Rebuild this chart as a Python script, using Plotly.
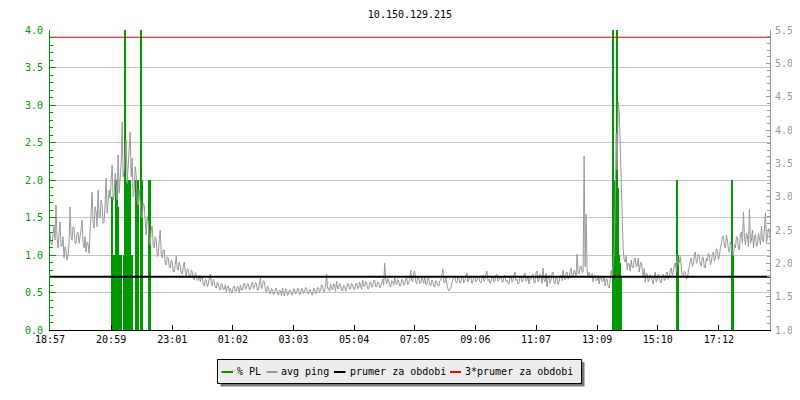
import plotly.graph_objects as go

title = "10.150.129.215"

# x axis: minutes since 18:57
tick_minutes = [0, 122, 244, 365, 486, 607, 728, 849, 970, 1092, 1213, 1335]
tick_labels = ["18:57", "20:59", "23:01", "01:02", "03:03", "05:04",
               "07:05", "09:06", "11:07", "13:09", "15:10", "17:12"]

# % packet loss (left axis), only the non-zero samples
pl_minutes = [124, 126, 128, 132, 134, 136, 140, 142, 148, 150, 152, 154,
              156, 158, 160, 162, 164, 172, 174, 176, 182, 184, 198, 200,
              1124, 1126, 1128, 1130, 1132, 1134, 1136, 1138, 1140,
              1252, 1254, 1362, 1364]
pl_values = [1.77, 1.0, 1.0, 2.0, 2.0, 1.64, 1.0, 1.0, 1.0, 4.5, 2.0, 2.0,
             2.0, 2.0, 2.0, 1.0, 1.0, 2.0, 2.0, 2.0, 4.5, 2.0, 2.0, 2.0,
             4.5, 2.0, 2.0, 1.0, 4.5, 1.9, 1.0, 0.9, 0.7,
             2.0, 1.0, 2.0, 1.0]

# avg ping (right axis), one sample every 2 minutes
ping_values = [
    2.47, 2.30, 2.275, 2.50, 2.575, 2.35, 2.875, 2.40, 2.23, 2.45, 2.62, 2.25, 2.26, 2.40, 2.08,
    2.25, 2.20, 2.05, 2.125, 2.30, 2.845, 2.40, 2.35, 2.55, 2.53, 2.30, 2.305, 2.45, 2.47, 2.30,
    2.38, 2.50, 2.65, 2.30, 2.23, 2.40, 2.17, 2.32, 2.29, 2.15, 2.47, 2.70, 3.07, 2.60, 2.53,
    2.85, 2.77, 2.55, 3.10, 2.70, 2.68, 2.95, 2.875, 2.60, 2.62, 2.90, 3.28, 2.75, 2.95, 3.10,
    2.98, 3.20, 3.475, 2.95, 3.025, 3.35, 3.22, 2.95, 3.625, 3.05, 3.28, 3.50, 4.12, 3.30, 3.40,
    3.70, 3.85, 3.20, 3.43, 3.75, 3.97, 3.30, 3.58, 3.00, 3.10, 3.45, 3.325, 2.95, 2.875, 3.10,
    2.95, 2.70, 2.68, 2.90, 2.875, 2.55, 2.425, 2.70, 2.62, 2.35, 2.275, 2.50, 2.56, 2.25, 2.23,
    2.40, 2.35, 2.10, 2.125, 2.35, 2.50, 2.15, 2.08, 2.20, 2.20, 2.00, 1.975, 2.10, 2.08, 1.95,
    1.93, 2.05, 2.02, 1.88, 1.87, 1.98, 2.11, 1.92, 1.90, 2.02, 1.96, 1.85, 1.84, 1.95, 2.02,
    1.86, 1.81, 1.92, 1.90, 1.80, 1.78, 1.90, 1.87, 1.77, 1.75, 1.86, 1.825, 1.74, 1.765, 1.82,
    1.72, 1.80, 1.78, 1.68, 1.66, 1.76, 1.75, 1.65, 1.69, 1.78, 1.84, 1.70, 1.66, 1.76, 1.72,
    1.64, 1.63, 1.72, 1.69, 1.62, 1.60, 1.70, 1.675, 1.60, 1.615, 1.68, 1.57, 1.65, 1.66, 1.58,
    1.63, 1.56, 1.57, 1.65, 1.66, 1.58, 1.585, 1.66, 1.63, 1.56, 1.675, 1.60, 1.60, 1.68, 1.705,
    1.61, 1.63, 1.70, 1.69, 1.60, 1.615, 1.68, 1.72, 1.62, 1.645, 1.71, 1.69, 1.60, 1.60, 1.70,
    1.78, 1.62, 1.66, 1.74, 1.72, 1.60, 1.57, 1.66, 1.63, 1.55, 1.54, 1.62, 1.60, 1.53, 1.555,
    1.63, 1.615, 1.54, 1.525, 1.60, 1.585, 1.52, 1.63, 1.55, 1.51, 1.62, 1.60, 1.52, 1.54, 1.61,
    1.585, 1.53, 1.525, 1.62, 1.615, 1.54, 1.555, 1.63, 1.60, 1.53, 1.54, 1.62, 1.615, 1.55, 1.57,
    1.64, 1.63, 1.55, 1.54, 1.61, 1.60, 1.53, 1.525, 1.63, 1.615, 1.54, 1.57, 1.64, 1.63, 1.56,
    1.60, 1.68, 1.66, 1.57, 1.585, 1.65, 1.84, 1.62, 1.63, 1.58, 1.69, 1.62, 1.60, 1.70, 1.66,
    1.58, 1.735, 1.63, 1.615, 1.70, 1.675, 1.60, 1.585, 1.67, 1.66, 1.58, 1.615, 1.70, 1.69, 1.61,
    1.63, 1.70, 1.675, 1.61, 1.60, 1.69, 1.705, 1.62, 1.63, 1.72, 1.675, 1.61, 1.75, 1.66, 1.645,
    1.73, 1.705, 1.62, 1.615, 1.71, 1.72, 1.64, 1.66, 1.74, 1.75, 1.65, 1.645, 1.72, 1.705, 1.63,
    1.66, 1.74, 1.765, 1.68, 2.005, 1.75, 1.69, 1.77, 1.75, 1.66, 1.645, 1.74, 1.72, 1.67, 1.78,
    1.70, 1.675, 1.76, 1.735, 1.66, 1.66, 1.76, 1.75, 1.67, 1.69, 1.77, 1.78, 1.68, 1.705, 1.76,
    1.90, 1.74, 1.72, 1.86, 1.885, 1.72, 1.69, 1.80, 1.78, 1.70, 1.705, 1.79, 1.75, 1.70, 1.81,
    1.69, 1.675, 1.78, 1.765, 1.68, 1.66, 1.75, 1.735, 1.66, 1.645, 1.74, 1.72, 1.67, 1.66, 1.74,
    1.75, 1.84, 1.915, 1.72, 1.705, 1.78, 1.66, 1.62, 1.585, 1.61, 1.63, 1.70, 1.75, 1.80, 1.81,
    1.72, 1.705, 1.79, 1.78, 1.70, 1.72, 1.80, 1.795, 1.71, 1.735, 1.82, 1.855, 1.72, 1.75, 1.80,
    1.78, 1.70, 1.72, 1.80, 1.81, 1.72, 1.735, 1.81, 1.795, 1.72, 1.705, 1.80, 1.825, 1.73, 1.75,
    1.84, 1.885, 1.74, 1.765, 1.70, 1.72, 1.80, 1.81, 1.72, 1.735, 1.82, 1.84, 1.73, 1.75, 1.80,
    1.795, 1.72, 1.72, 1.81, 1.825, 1.73, 1.75, 1.70, 1.69, 1.80, 1.81, 1.72, 1.735, 1.83, 1.87,
    1.74, 1.765, 1.69, 1.705, 1.80, 1.81, 1.72, 1.735, 1.83, 1.855, 1.73, 1.75, 1.81, 1.69, 1.77,
    1.765, 1.82, 1.84, 1.71, 1.705, 1.86, 1.885, 1.72, 1.75, 1.84, 1.81, 1.70, 1.93, 1.76, 1.72,
    1.85, 1.645, 1.78, 1.825, 1.70, 1.75, 1.84, 1.87, 1.72, 1.69, 1.80, 1.78, 1.68, 1.72, 1.82,
    1.81, 1.74, 1.90, 1.78, 1.75, 1.86, 1.87, 1.76, 1.78, 1.88, 1.93, 1.80, 1.81, 1.90, 1.87,
    1.80, 2.14, 1.86, 1.84, 1.95, 1.96, 1.86, 1.87, 3.61, 1.95, 2.74, 1.87, 1.80, 1.87, 1.79,
    1.78, 1.85, 1.72, 1.80, 1.825, 1.74, 1.75, 1.82, 1.69, 1.78, 1.81, 1.72, 1.735, 1.80, 1.66,
    1.76, 1.765, 1.65, 1.63, 1.74, 1.90, 1.80, 2.02, 2.15, 2.90, 3.95, 3.40, 4.42, 4.30, 3.70,
    3.10, 2.40, 2.20, 2.05, 2.02, 2.12, 1.90, 2.00, 1.99, 1.88, 2.05, 1.94, 1.93, 2.06, 2.08,
    1.95, 1.96, 2.08, 1.87, 1.98, 2.02, 1.90, 1.81, 1.92, 1.72, 1.85, 1.84, 1.72, 1.75, 1.83,
    1.81, 1.74, 1.69, 1.80, 1.87, 1.72, 1.75, 1.84, 1.81, 1.72, 1.705, 1.82, 1.84, 1.74, 1.765,
    1.86, 1.87, 1.76, 1.795, 1.90, 1.93, 1.82, 1.87, 1.96, 2.005, 1.88, 2.11, 1.98, 2.02, 2.10,
    1.90, 1.80, 1.795, 1.88, 1.87, 1.76, 1.78, 1.90, 1.96, 2.04, 2.08, 1.95, 1.99, 2.12, 2.17,
    2.00, 2.05, 2.14, 2.11, 1.98, 1.96, 2.10, 2.08, 1.94, 1.93, 2.08, 2.035, 2.15, 2.125, 1.98,
    2.02, 2.15, 2.17, 2.03, 2.08, 2.22, 2.20, 2.06, 2.11, 2.24, 2.29, 2.40, 2.41, 2.26, 2.23,
    2.42, 2.35, 2.20, 2.17, 2.32, 2.275, 2.14, 2.11, 2.28, 2.23, 2.40, 2.38, 2.22, 2.20, 2.45,
    2.47, 2.30, 2.77, 2.40, 2.275, 2.45, 2.41, 2.25, 2.815, 2.30, 2.35, 2.50, 2.23, 2.40, 2.44,
    2.25, 2.29, 2.45, 2.38, 2.28, 2.56, 2.35, 2.32, 2.55, 2.755, 2.30, 2.38, 2.52, 2.50, 2.34,
]
ping_minutes = list(range(0, 2 * len(ping_values), 2))

avg_ping = 1.797

GREEN = "#009900"
GREY = "#999999"
RED = "#ee0000"
FONT = "DejaVu Sans Mono"

# the page puts the figure 8px in from the top-left corner of the window,
# so the figure is 792x392 and the margins are trimmed by the same 8px
PAGE_OFFSET = 8
FIG_W, FIG_H = 800 - PAGE_OFFSET, 400 - PAGE_OFFSET


def px_x(px):
    # window pixel column -> paper x (plot spans 50..770)
    return (px - 50) / 720


def px_y(py):
    # window pixel row -> paper y (plot spans 30..330)
    return (330 - py) / 300


fig = go.Figure()

fig.add_trace(go.Bar(
    x=pl_minutes, y=pl_values, width=2, name="% PL",
    marker=dict(color=GREEN, line=dict(width=0)),
))
fig.add_trace(go.Scatter(
    x=ping_minutes, y=ping_values, yaxis="y2", mode="lines", name="avg ping",
    line=dict(color=GREY, width=1),
))
fig.add_trace(go.Scatter(
    x=[0, 1437], y=[avg_ping, avg_ping], yaxis="y2", mode="lines",
    name="prumer za obdobi", line=dict(color="black", width=2),
))
fig.add_trace(go.Scatter(
    x=[0, 1437], y=[3 * avg_ping, 3 * avg_ping], yaxis="y2", mode="lines",
    name="3*prumer za obdobi", line=dict(color=RED, width=1),
))

# hand-drawn legend box with drop shadow, like the rrd one
shapes = [
    dict(type="rect", xref="paper", yref="paper",
         x0=px_x(220.5), x1=px_x(584.5), y0=px_y(386.5), y1=px_y(362),
         fillcolor="#777777", line=dict(width=0), layer="above"),
    dict(type="rect", xref="paper", yref="paper",
         x0=px_x(217.5), x1=px_x(581.5), y0=px_y(383.5), y1=px_y(359.5),
         fillcolor="#ececec", line=dict(color="black", width=1), layer="above"),
]
legend_items = [
    (221.5, 233, GREEN, "% PL", 236),
    (266.5, 277.5, GREY, "avg ping", 280),
    (334, 345.5, "black", "prumer za obdobi", 348.5),
    (450, 461, RED, "3*prumer za obdobi", 464),
]
annotations = []
for x0, x1, color, label, tx in legend_items:
    shapes.append(dict(type="line", xref="paper", yref="paper",
                       x0=px_x(x0), x1=px_x(x1), y0=px_y(372), y1=px_y(372),
                       line=dict(color=color, width=2), layer="above"))
    annotations.append(dict(text=label, xref="paper", yref="paper",
                            x=px_x(tx - 1), y=px_y(371), xanchor="left", yanchor="middle",
                            showarrow=False, font=dict(family=FONT, size=10, color="black")))

fig.update_layout(
    width=FIG_W, height=FIG_H,
    margin=dict(l=50 - PAGE_OFFSET, r=30, t=30 - PAGE_OFFSET, b=70, autoexpand=False),
    paper_bgcolor="white", plot_bgcolor="white",
    font=dict(family=FONT, size=10, color="black"),
    title=dict(text=title, x=0.5, xref="paper", xanchor="center",
               y=1 - (14 - PAGE_OFFSET) / FIG_H, yanchor="middle",
               font=dict(family=FONT, size=10, color="black")),
    showlegend=False,
    bargap=0,
    shapes=shapes,
    annotations=annotations,
    xaxis=dict(
        range=[0, 1437], tickvals=tick_minutes, ticktext=tick_labels,
        ticks="inside", ticklen=5, tickcolor="black", automargin=False,
        showline=True, linecolor="black", linewidth=1,
        showgrid=False, zeroline=False, tickfont=dict(color="black"),
    ),
    yaxis=dict(
        range=[0, 4], dtick=0.5, tickformat=".1f", automargin=False,
        ticks="inside", ticklen=6, tickcolor=GREEN,
        showline=True, linecolor=GREEN, linewidth=1,
        gridcolor="#c4c4c4", gridwidth=1, zeroline=False,
        tickfont=dict(color=GREEN), ticklabelstandoff=4,
        minor=dict(dtick=0.1, ticks="inside", ticklen=3, tickcolor=GREEN, showgrid=False),
    ),
    yaxis2=dict(
        range=[1, 5.5], dtick=0.5, tickformat=".1f", overlaying="y", side="right",
        ticks="inside", ticklen=4, tickcolor=GREY, automargin=False,
        showline=True, linecolor=GREY, linewidth=1,
        showgrid=False, zeroline=False,
        tickfont=dict(color=GREY), ticklabelstandoff=2,
        minor=dict(dtick=0.1, ticks="inside", ticklen=3, tickcolor=GREY, showgrid=False),
    ),
)

fig.write_html("out.html")
